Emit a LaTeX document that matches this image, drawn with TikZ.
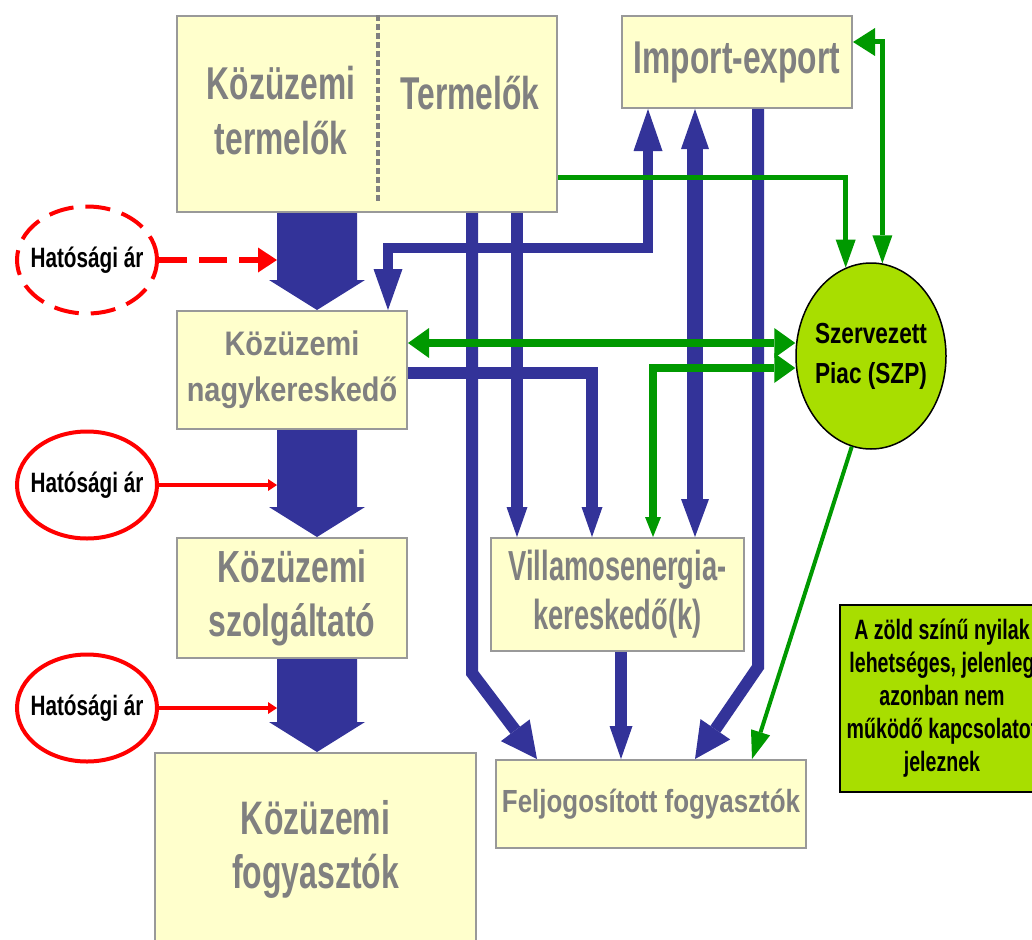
\documentclass[tikz,border=0pt]{standalone}
\usepackage{fontspec}
\setmainfont{Liberation Sans}
\newfontfamily\prodfont{Liberation Sans}[FakeStretch=0.69]
\newfontfamily\nagyfont{Liberation Sans}[FakeStretch=0.85]
\newfontfamily\szolgfont{Liberation Sans}[FakeStretch=0.71]
\newfontfamily\fogyfont{Liberation Sans}[FakeStretch=0.68]
\newfontfamily\villafont{Liberation Sans}[FakeStretch=0.65]
\newfontfamily\feljfont{Liberation Sans}[FakeStretch=0.81]
\newfontfamily\hatfont{Liberation Sans}[FakeStretch=0.74]
\newfontfamily\szpfont{Liberation Sans}[FakeStretch=0.78]
\newfontfamily\notefont{Liberation Sans}[FakeStretch=0.70]
\usetikzlibrary{arrows.meta,shapes.geometric}

\definecolor{boxfill}{HTML}{FFFFCC}
\definecolor{boxline}{HTML}{999999}
\definecolor{labelgray}{HTML}{808080}
\definecolor{flowblue}{HTML}{333399}
\definecolor{flowgreen}{HTML}{009900}
\definecolor{szpgreen}{HTML}{A8DE00}
\definecolor{pricered}{HTML}{FF0000}

\begin{document}
\begin{tikzpicture}[x=1pt, y=-1pt, line join=miter,
		box/.style={draw=boxline, line width=2pt, fill=boxfill, text=labelgray, align=center, inner sep=0pt},
		price/.style={ellipse, draw=pricered, line width=4pt, minimum width=140pt, minimum height=107pt, inner sep=0pt, font=\hatfont\bfseries\fontsize{28}{32}\selectfont},
		pricearrow/.style={draw=pricered, line width=4.5pt, -{Triangle[width=12pt,length=9pt,line width=0pt]}},
		blueline/.style={draw=flowblue, line width=12pt, -{Triangle[width=21pt,length=30pt,line width=0pt]}},
		greenline/.style={draw=flowgreen, line width=8pt}]
	\useasboundingbox (0,0) rectangle (1032,939);
	\clip (0,0) rectangle (1032,939);
	
	%boxes
	\node[box, minimum width=380pt, minimum height=196pt] (prod) at (367,114) {};
	\draw[labelgray, line width=4pt, dash pattern=on 6pt off 3pt] (prod.north -| 378,0) -- (378,202);
	\node[text=labelgray, align=center, inner sep=0pt, font=\prodfont\bfseries\fontsize{46}{55}\selectfont] (prodpub) at (281,111) {Közüzemi\\termelők};
	\node[text=labelgray, inner sep=0pt, font=\prodfont\bfseries\fontsize{46}{55}\selectfont] (prodind) at (470,93) {Termelők};
	\node[box, minimum width=230pt, minimum height=92pt, font=\prodfont\bfseries\fontsize{46}{55}\selectfont] (imex) at (737,62) {Import-export};
	\node[box, minimum width=230pt, minimum height=118pt, font=\nagyfont\bfseries\fontsize{34}{46}\selectfont] (nagy) at (292,370) {Közüzemi\\nagykereskedő};
	\node[box, minimum width=230pt, minimum height=120pt, font=\szolgfont\bfseries\fontsize{45}{54}\selectfont] (szolg) at (292,598) {Közüzemi\\szolgáltató};
	\node[box, minimum width=321pt, minimum height=192pt, font=\fogyfont\bfseries\fontsize{47}{54}\selectfont] (fogy) at (315.5,849) {Közüzemi\\fogyasztók};
	\node[box, minimum width=253pt, minimum height=113pt, font=\villafont\bfseries\fontsize{42}{49}\selectfont] (villa) at (617.5,594.5) {Villamosenergia-\\kereskedő(k)};
	\node[box, minimum width=310pt, minimum height=88pt, font=\feljfont\bfseries\fontsize{32}{38}\selectfont] (feljog) at (651,804) {Feljogosított fogyasztók};
	\node[draw=black, line width=2pt, fill=szpgreen, align=center, inner sep=0pt, minimum width=204pt, minimum height=187pt, font=\notefont\bfseries\fontsize{28}{33}\selectfont] (note) at (942,698.5) {A zöld színű nyilak\\lehetséges, jelenleg\\azonban nem\\működő kapcsolatot\\jeleznek};
	
	%market
	\node[ellipse, draw=black, line width=1.5pt, fill=szpgreen, minimum width=150pt, minimum height=186pt, inner sep=0pt] (szp) at (871,356) {};
	\node[align=center, inner sep=0pt, font=\szpfont\bfseries\fontsize{29}{40}\selectfont] (szptxt) at (szp.center) {Szervezett\\Piac (SZP)};
	
	%regulated prices
	\node[price, dash pattern=on 25pt off 12pt] (hat1) at (87,260) {\makebox[0pt]{Hatósági ár}};
	\node[price] (hat2) at (87,485) {\makebox[0pt]{Hatósági ár}};
	\node[price] (hat3) at (87,708) {\makebox[0pt]{Hatósági ár}};
	
	%main chain
	\foreach \a/\b/\h in {prod/nagy/280, nagy/szolg/507, szolg/fogy/722}{
		\fill[flowblue] (\a.south -| 277,0) -- (\a.south -| 357,0) -- (357,\h) -- (365,\h) -- (\b.north -| 317,0) -- (269,\h) -- (277,\h) -- cycle;
	}
	
	%blue flows
	\draw[flowblue, line width=10pt, {Triangle[width=29pt,length=42pt,line width=0pt]}-{Triangle[width=29pt,length=41pt,line width=0pt]}] (imex.south -| 648,0) -- (648,248) -- (388,248) -- (nagy.north -| 388,0);
	\draw[flowblue, line width=16pt, {Triangle[width=28pt,length=40pt,line width=0pt]}-{Triangle[width=28pt,length=38pt,line width=0pt]}] (imex.south -| 695,0) -- (villa.north -| 695,0);
	\draw[blueline, -{Triangle[width=36pt,length=36pt,line width=0pt]}] (imex.south -| 758,0) -- (758,667) -- (feljog.north -| 695,0);
	\draw[blueline, -{Triangle[width=36pt,length=36pt,line width=0pt]}] (prod.south -| 472,0) -- (472,673) -- (feljog.north -| 537,0);
	\draw[blueline] (prod.south -| 517,0) -- (villa.north -| 517,0);
	\draw[blueline] (nagy.east |- 0,373) -- (592,373) -- (villa.north -| 592,0);
	\draw[blueline, -{Triangle[width=23pt,length=33pt,line width=0pt]}] (villa.south -| 621,0) -- (feljog.north -| 621,0);
	
	%green flows
	\draw[greenline, line width=5pt, -{Triangle[width=20pt,length=28pt,line width=0pt]}] (prod.east |- 0,177) -| (szp.106);
	\draw[greenline, line width=5pt, {Triangle[width=28pt,length=22pt,line width=0pt]}-{Triangle[width=20pt,length=28pt,line width=0pt]}] (imex.east |- 0,42) -| (szp.83);
	\draw[greenline, {Triangle[width=30pt,length=21pt,line width=0pt]}-{Triangle[width=30pt,length=21pt,line width=0pt]}] (nagy.east |- 0,343) -- (szp.west |- 0,343);
	\draw[greenline, {Triangle[width=16pt,length=20pt,line width=0pt]}-{Triangle[width=30pt,length=21pt,line width=0pt]}] (villa.north -| 653,0) -- (653,368) -- (szp.west |- 0,368);
	\draw[greenline, line width=4pt, -{Triangle[width=20pt,length=28pt,line width=0pt]}] (szp.258) -- (feljog.north -| 752,0);
	
	%price arrows
	\draw[pricered, line width=6pt, dash pattern=on 28pt off 12pt, -{Triangle[width=25pt,length=19pt,line width=0pt]}] (hat1.east) -- (hat1.east -| 277,0);
	\draw[pricearrow] (hat2.east) -- (hat2.east -| 277,0);
	\draw[pricearrow] (hat3.east) -- (hat3.east -| 277,0);
\end{tikzpicture}
\end{document}
